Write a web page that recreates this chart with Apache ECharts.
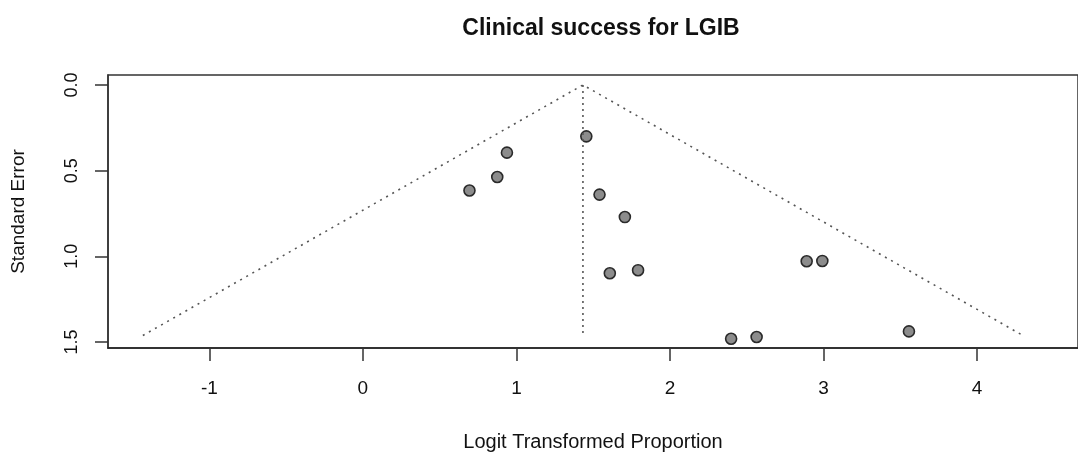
<!DOCTYPE html>
<html>
<head>
<meta charset="utf-8">
<script src="https://cdn.jsdelivr.net/npm/echarts@6/dist/echarts.min.js"></script>
<style>
html,body{margin:0;padding:0;background:#fff;}
#c{width:1078px;height:457px;}
</style>
</head>
<body>
<div id="c"></div>
<script>
// Study estimates (logit transformed proportion, standard error)
var studyX  = [1.455, 0.938, 0.875, 0.694, 1.541, 1.706, 1.608, 1.792, 2.890, 2.992, 2.398, 2.564, 3.556];
var studySE = [0.300, 0.395, 0.537, 0.616, 0.640, 0.771, 1.099, 1.081, 1.029, 1.027, 1.481, 1.471, 1.438];
// Funnel (pseudo confidence region) and pooled estimate
var funnelX  = [-1.433, 1.433, 4.298];
var funnelSE = [1.462, 0.0, 1.462];
var pooledX  = [1.433, 1.433];
var pooledSE = [0.0, 1.462];
// Tick labels
var xTicks = [-1, 0, 1, 2, 3, 4];
var yTicks = [0, 0.5, 1, 1.5];

function zip(a, b){ return a.map(function(v,i){ return [v, b[i]]; }); }

var FONT = 'Liberation Sans, Arial, sans-serif';
var chart = echarts.init(document.getElementById('c'), null, {renderer:'canvas'});
chart.setOption({
  animation: false,
  backgroundColor: '#fff',
  title: {
    text: 'Clinical success for LGIB',
    left: 596, top: 12, textAlign: 'center',
    textStyle: {fontFamily: FONT, fontSize: 23, fontWeight: 'bold', color: '#111'}
  },
  grid: {
    left: 108, top: 75, right: -4, bottom: 108,
    show: true, borderColor: '#333', borderWidth: 1.5, backgroundColor: 'transparent'
  },
  xAxis: {
    type: 'value', min: -1.66, max: 4.657,
    name: 'Logit Transformed Proportion', nameLocation: 'middle', nameGap: 84,
    nameTextStyle: {fontFamily: FONT, fontSize: 20, color: '#111'},
    axisLine: {show: true, onZero: false, lineStyle: {color: '#222', width: 1.5}},
    axisTick: {show: true, length: 13, customValues: xTicks, lineStyle: {color: '#333', width: 1.5}},
    axisLabel: {customValues: xTicks, margin: 31, fontFamily: FONT, fontSize: 19, color: '#111'},
    splitLine: {show: false}
  },
  yAxis: {
    type: 'value', inverse: true, min: -0.058, max: 1.535,
    name: 'Standard Error', nameLocation: 'middle', nameGap: 80, nameRotate: 90,
    nameTextStyle: {fontFamily: FONT, fontSize: 19, color: '#111'},
    axisLine: {show: true, onZero: false, lineStyle: {color: '#333', width: 1.5}},
    axisTick: {show: true, length: 13, customValues: yTicks, lineStyle: {color: '#333', width: 1.5}},
    axisLabel: {customValues: yTicks, rotate: 90, margin: 27, fontFamily: FONT, fontSize: 18, color: '#111',
      formatter: function(v){ return v.toFixed(1); }},
    splitLine: {show: false}
  },
  series: [
    {
      type: 'line', data: zip(funnelX, funnelSE), symbol: 'none', silent: true,
      lineStyle: {type: [2, 5], color: '#555', width: 1.6}
    },
    {
      type: 'line', data: zip(pooledX, pooledSE), symbol: 'none', silent: true,
      lineStyle: {type: [2, 4], color: '#555', width: 1.6}
    },
    {
      type: 'scatter', data: zip(studyX, studySE), symbol: 'circle', symbolSize: 11,
      itemStyle: {color: '#8c8c8c', borderColor: '#2a2a2a', borderWidth: 1.6, opacity: 1}
    }
  ]
});
</script>
</body>
</html>
